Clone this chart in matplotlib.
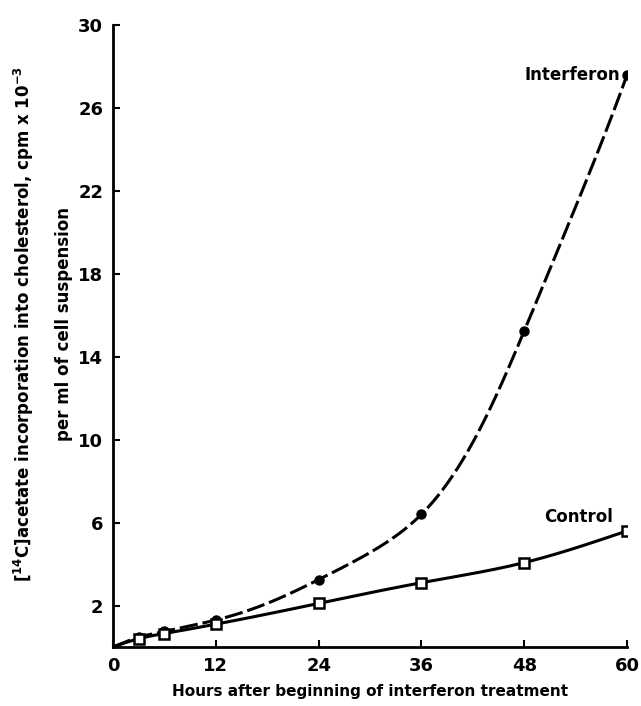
import numpy as np
import matplotlib
matplotlib.use('Agg')
import matplotlib.pyplot as plt

# hours after start of treatment (0 = origin, no marker)
hours = [0, 3, 6, 12, 24, 36, 48, 60]
interferon = [0, 0.5, 0.75, 1.3, 3.25, 6.4, 15.25, 27.6]
control = [0, 0.4, 0.65, 1.1, 2.1, 3.1, 4.07, 5.6]

x_ticks = [0, 12, 24, 36, 48, 60]
y_ticks = [2, 6, 10, 14, 18, 22, 26, 30]


def spline(x, y, n=400):
    # natural cubic spline, only used to draw the curve through the points
    x = np.asarray(x, float)
    y = np.asarray(y, float)
    k = len(x)
    h = np.diff(x)
    A = np.zeros((k, k))
    b = np.zeros(k)
    A[0, 0] = A[-1, -1] = 1
    for i in range(1, k - 1):
        A[i, i - 1] = h[i - 1]
        A[i, i] = 2 * (h[i - 1] + h[i])
        A[i, i + 1] = h[i]
        b[i] = 6 * ((y[i + 1] - y[i]) / h[i] - (y[i] - y[i - 1]) / h[i - 1])
    M = np.linalg.solve(A, b)
    xs = np.linspace(x[0], x[-1], n)
    j = np.clip(np.searchsorted(x, xs) - 1, 0, k - 2)
    a = x[j + 1] - xs
    c = xs - x[j]
    hj = h[j]
    ys = (M[j] * a**3 + M[j + 1] * c**3) / (6 * hj) \
        + (y[j] / hj - M[j] * hj / 6) * a + (y[j + 1] / hj - M[j + 1] * hj / 6) * c
    return xs, ys


def log_curve(x, y):
    # straight from the origin to the first point, then a spline in log space
    xs, ls = spline(x[1:], np.log(y[1:]))
    return np.r_[x[0], xs], np.r_[y[0], np.exp(ls)]


plt.rcParams['font.family'] = ['DejaVu Sans']
plt.rcParams['font.weight'] = 'bold'

fig = plt.figure(figsize=(6.41, 7.06), dpi=100)
ax = fig.add_axes([0.1763, 0.0836, 0.802, 0.881])

xs, ys = log_curve(hours, interferon)
line, = ax.plot(xs, ys, color='black', lw=2.2)
line.set_dashes([6, 1.6])
ax.plot(hours[1:], interferon[1:], 'o', color='black', ms=6.5)

xs, ys = spline(hours, control)
ax.plot(xs, ys, color='black', lw=2.2)
ax.plot(hours[1:], control[1:], 's', color='black', mfc='white', mew=1.8, ms=7)

ax.text(59.2, 27.6, 'Interferon', ha='right', va='center', fontsize=12, fontweight='bold')
ax.text(58.3, 6.25, 'Control', ha='right', va='center', fontsize=12, fontweight='bold')

ax.set_xlim(0, 60)
ax.set_ylim(0, 30)
ax.set_xticks(x_ticks)
ax.set_yticks(y_ticks)
ax.tick_params(direction='in', length=5, width=1.5, labelsize=13, pad=7)
for s in ['top', 'right']:
    ax.spines[s].set_visible(False)
for s in ['left', 'bottom']:
    ax.spines[s].set_linewidth(2)

ax.set_xlabel('Hours after beginning of interferon treatment', fontsize=11,
              fontweight='bold', labelpad=7)
ax.set_ylabel('[$^{\\mathbf{14}}$C]acetate incorporation into cholesterol, cpm x 10$^{\\mathbf{-3}}$\n'
              'per ml of cell suspension', fontsize=12, fontweight='bold',
              labelpad=4, linespacing=2.3)
ax.yaxis.label.set_y(0.52)

fig.savefig('out.png', dpi=100)
plt.close(fig)
